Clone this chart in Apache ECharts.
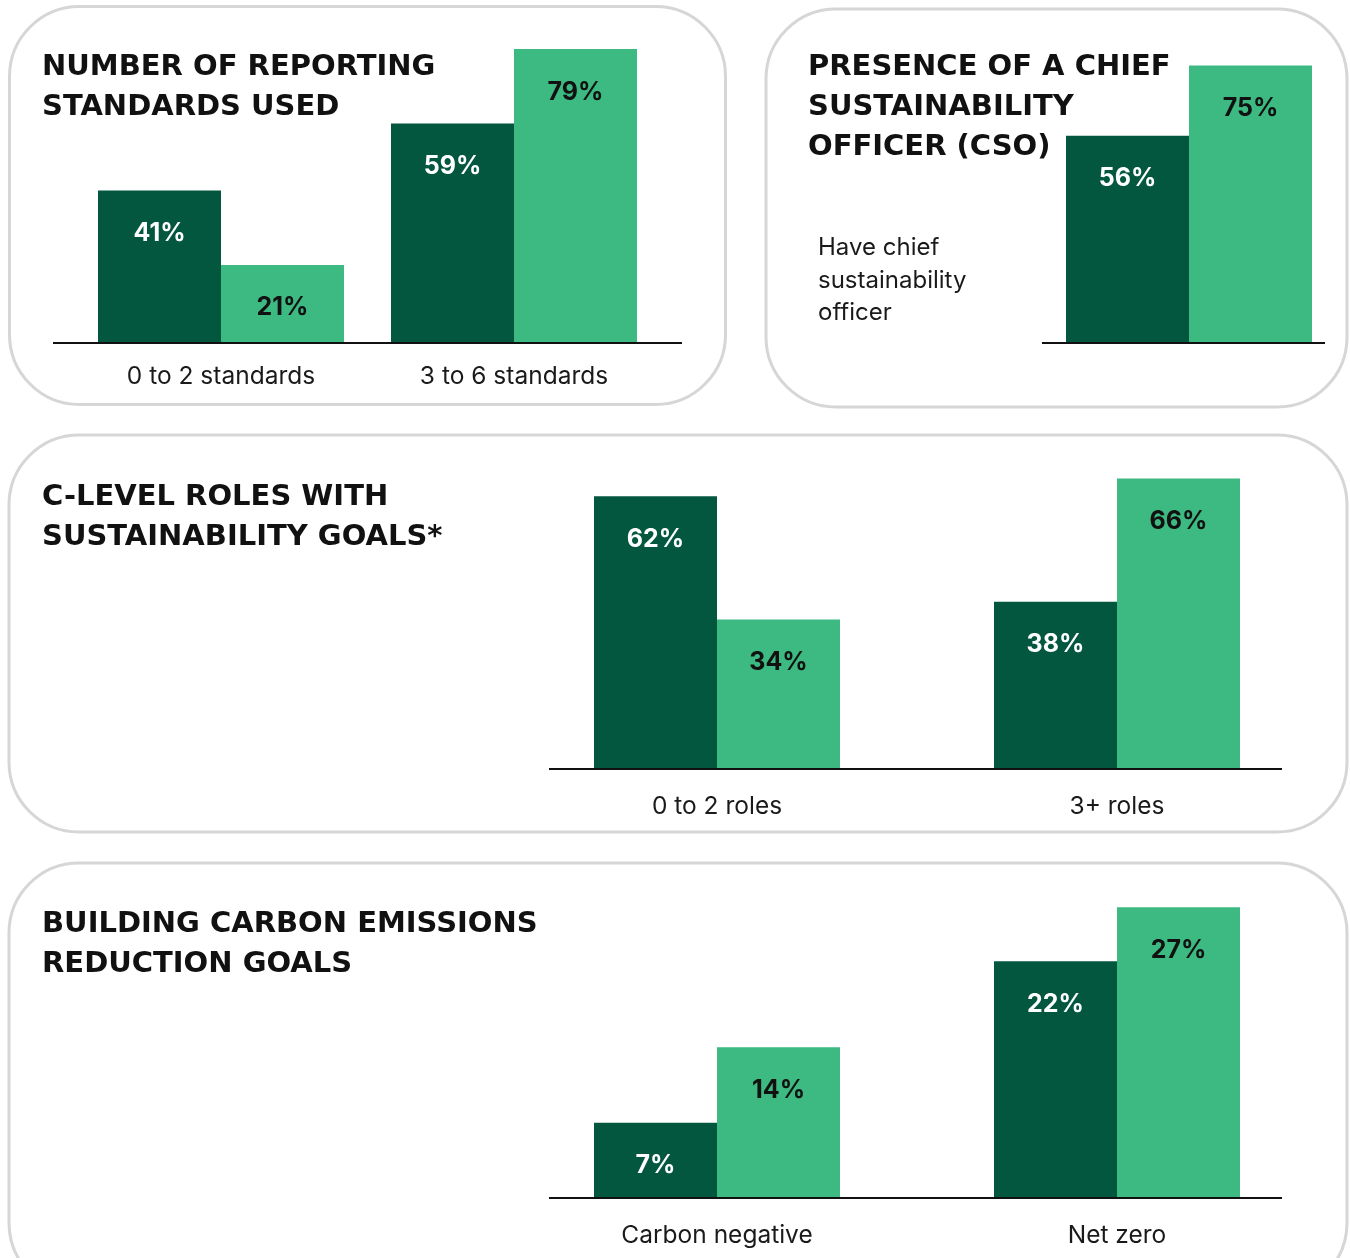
<!DOCTYPE html>
<html>
<head>
<meta charset="utf-8">
<script src="https://cdn.jsdelivr.net/npm/echarts@6/dist/echarts.min.js"></script>
<style>
html,body{margin:0;padding:0;background:#fff;}
#c{width:1350px;height:1258px;}
</style>
</head>
<body>
<div id="c"></div>
<script>
// ---- data ----
var titles = [
  'NUMBER OF REPORTING\nSTANDARDS USED',
  'PRESENCE OF A CHIEF\nSUSTAINABILITY\nOFFICER (CSO)',
  'C-LEVEL ROLES WITH\nSUSTAINABILITY GOALS*',
  'BUILDING CARBON EMISSIONS\nREDUCTION GOALS'
];
var standardsCats = ['0 to 2 standards', '3 to 6 standards'];
var standardsDark = [41, 59];
var standardsLight = [21, 79];
var csoCats = ['Have chief sustainability officer'];
var csoDark = [56];
var csoLight = [75];
var csoNote = 'Have chief\nsustainability\nofficer';
var rolesCats = ['0 to 2 roles', '3+ roles'];
var rolesDark = [62, 38];
var rolesLight = [34, 66];
var carbonCats = ['Carbon negative', 'Net zero'];
var carbonDark = [7, 22];
var carbonLight = [14, 27];

// ---- style ----
var DARK = '#03573F', LIGHT = '#3DB982', BORDER = '#d6d6d6';
var FONT = 'Inter, "Noto Sans", sans-serif';
var TITLE_FONT = '"DejaVu Sans", Inter, sans-serif';

var grids = [
  {left: 74.5, width: 586, top: 45.4, height: 297.6},
  {left: 1042, width: 294, top: 47, height: 296},
  {left: 517, width: 800, top: 461, height: 308},
  {left: 517, width: 800, top: 875, height: 323}
];
var yMax = [80, 80, 70, 30];
var labelMargin = [21, 21, 25, 25];
var cats = [standardsCats, csoCats, rolesCats, carbonCats];
var darkVals = [standardsDark, csoDark, rolesDark, carbonDark];
var lightVals = [standardsLight, csoLight, rolesLight, carbonLight];

var xAxes = [], yAxes = [], series = [];
for (var i = 0; i < 4; i++) {
  xAxes.push({
    type: 'category', gridIndex: i, data: cats[i],
    axisLine: {show: false}, axisTick: {show: false},
    axisLabel: {show: i !== 1, color: '#1a1a1a', fontSize: 24.5, fontFamily: FONT, margin: labelMargin[i]}
  });
  yAxes.push({
    type: 'value', gridIndex: i, min: 0, max: yMax[i],
    show: false, splitLine: {show: false}
  });
  series.push({
    type: 'bar', xAxisIndex: i, yAxisIndex: i, data: darkVals[i],
    barWidth: 123, barGap: '0%',
    itemStyle: {color: DARK},
    label: {show: true, position: 'insideTop', distance: 30.5, formatter: '{c}%',
      color: '#ffffff', fontSize: 25, fontWeight: 'bold', fontFamily: FONT}
  });
  series.push({
    type: 'bar', xAxisIndex: i, yAxisIndex: i, data: lightVals[i],
    barWidth: 123, barGap: '0%',
    itemStyle: {color: LIGHT},
    label: {show: true, position: 'insideTop', distance: 30.5, formatter: '{c}%',
      color: '#111111', fontSize: 25, fontWeight: 'bold', fontFamily: FONT}
  });
}

var titlePos = [[42, 47], [808, 47], [42, 477], [42, 904]];
var titleOpts = titles.map(function (t, k) {
  return {
    text: t, left: titlePos[k][0], top: titlePos[k][1], padding: 0,
    textStyle: {fontSize: 29, fontWeight: 'bold', color: '#111', lineHeight: 40, fontFamily: TITLE_FONT}
  };
});

var panels = [
  {x: 9.5, y: 6.5, width: 716, height: 398},
  {x: 766, y: 9, width: 581, height: 398},
  {x: 9, y: 435, width: 1338, height: 397},
  {x: 9, y: 863, width: 1338, height: 430}
];
var baselines = [
  {x1: 53, x2: 682, y: 343},
  {x1: 1042, x2: 1325, y: 343},
  {x1: 549, x2: 1282, y: 769},
  {x1: 549, x2: 1282, y: 1198}
];
var graphics = [];
panels.forEach(function (p) {
  graphics.push({type: 'rect', z: -1, shape: {x: p.x, y: p.y, width: p.width, height: p.height, r: 70},
    style: {fill: '#fff', stroke: BORDER, lineWidth: 3}});
});
baselines.forEach(function (b) {
  graphics.push({type: 'line', z: 100, shape: {x1: b.x1, y1: b.y, x2: b.x2, y2: b.y},
    style: {stroke: '#111', lineWidth: 2}});
});
graphics.push({type: 'text', left: 818, top: 232, z: 100,
  style: {text: csoNote, fontSize: 24, lineHeight: 32.5, fill: '#1a1a1a', fontFamily: FONT}});

var chart = echarts.init(document.getElementById('c'));
chart.setOption({
  animation: false,
  backgroundColor: '#fff',
  title: titleOpts,
  grid: grids,
  xAxis: xAxes,
  yAxis: yAxes,
  series: series,
  graphic: graphics
});
</script>
</body>
</html>
